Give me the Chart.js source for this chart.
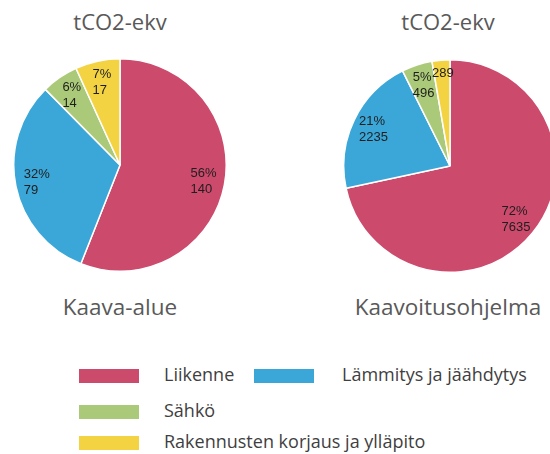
<!DOCTYPE html>
<html>
<head>
<meta charset="utf-8">
<script src="https://cdn.jsdelivr.net/npm/chart.js@4.4.0/dist/chart.umd.min.js"></script>
<style>
  body { margin: 0; width: 550px; height: 454px; overflow: hidden; background: #fff; position: relative; font-family: 'Open Sans', sans-serif; }
  canvas { position: absolute; }
  .txt { position: absolute; white-space: nowrap; line-height: 1; }
  .title { color: #595959; font-size: 22px; transform: translateX(-50%); }
  .name { color: #595959; font-size: 22.5px; transform: translateX(-50%); }
  .leg { color: #3f3f3f; font-size: 18px; }
  .sw { position: absolute; width: 60px; height: 14px; }
</style>
</head>
<body>
<div class="txt title" style="left:120px; top:10px">tCO2-ekv</div>
<div class="txt title" style="left:448px; top:10px">tCO2-ekv</div>
<canvas id="chart0" width="214" height="214" style="left:13px; top:58px"></canvas>
<canvas id="chart1" width="214" height="214" style="left:343px; top:59px"></canvas>
<div class="txt name" style="left:120px; top:296px">Kaava-alue</div>
<div class="txt name" style="left:448px; top:296px">Kaavoitusohjelma</div>
<div id="legend"></div>
<script>
const categories = ['Liikenne', 'Lämmitys ja jäähdytys', 'Sähkö', 'Rakennusten korjaus ja ylläpito'];
const kaavaAlue = [140, 79, 14, 17];
const kaavoitusohjelma = [7635, 2235, 496, 289];
const colors = ['#cc4a6c', '#3ba6d8', '#abca79', '#f4d343'];

// labels inside slices: percentage + value, small slices get only the value
const sliceLabels = {
  id: 'sliceLabels',
  afterDatasetsDraw(chart) {
    const ctx = chart.ctx;
    const meta = chart.getDatasetMeta(0);
    const values = chart.data.datasets[0].data;
    const total = values.reduce((a, b) => a + b, 0);
    ctx.save();
    ctx.font = '13px "Liberation Sans", Arial, sans-serif';
    ctx.fillStyle = '#1e1e1e';
    ctx.textBaseline = 'middle';
    meta.data.forEach((arc, i) => {
      const p = arc.getProps(['startAngle', 'endAngle', 'x', 'y', 'outerRadius'], true);
      const mid = (p.startAngle + p.endAngle) / 2;
      const px = p.x + Math.cos(mid) * p.outerRadius * 0.8;
      const py = p.y + Math.sin(mid) * p.outerRadius * 0.8;
      const pct = Math.round(values[i] / total * 100);
      const lines = pct >= 4 ? [pct + '%', String(values[i])] : [String(values[i]), ''];
      const w = Math.max(...lines.map(l => ctx.measureText(l).width));
      lines.forEach((l, k) => {
        ctx.fillText(l, px - w / 2, py - 8 + k * 16);
      });
    });
    ctx.restore();
  }
};

function makePie(id, values) {
  const ctx = document.getElementById(id).getContext('2d');
  return new Chart(ctx, {
    type: 'pie',
    data: {
      labels: categories,
      datasets: [{
        data: values,
        backgroundColor: colors,
        borderColor: '#fff',
        borderWidth: 1.5
      }]
    },
    options: {
      responsive: false,
      animation: false,
      events: [],
      layout: { padding: 0 },
      plugins: {
        legend: { display: false },
        tooltip: { enabled: false }
      }
    },
    plugins: [sliceLabels]
  });
}

makePie('chart0', kaavaAlue);
makePie('chart1', kaavoitusohjelma);

// legend: two items on the first row, then one per row
const legendPos = [[79, 369], [254, 369], [79, 405], [79, 436]];
const legend = document.getElementById('legend');
categories.forEach((c, i) => {
  const sw = document.createElement('div');
  sw.className = 'sw';
  sw.style.left = legendPos[i][0] + 'px';
  sw.style.top = legendPos[i][1] + 'px';
  sw.style.background = colors[i];
  legend.appendChild(sw);
  const t = document.createElement('div');
  t.className = 'txt leg';
  t.textContent = c;
  t.style.left = (legendPos[i][0] + (i === 1 ? 88 : 85)) + 'px';
  t.style.top = (legendPos[i][1] - 4) + 'px';
  legend.appendChild(t);
});
</script>
</body>
</html>
